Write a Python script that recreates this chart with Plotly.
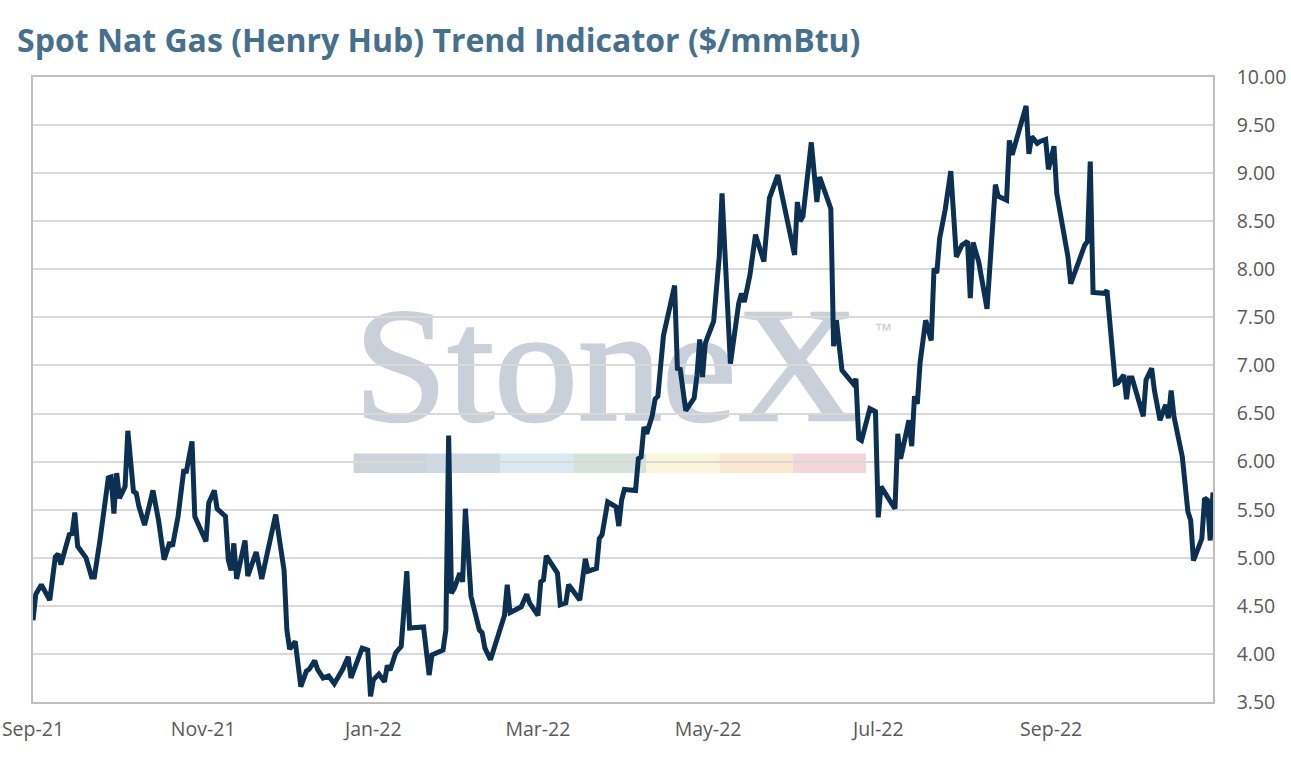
import urllib.parse
import plotly.graph_objects as go

# Henry Hub spot price
dates = [
    "2021-09-01", "2021-09-02", "2021-09-04", "2021-09-07", "2021-09-09", "2021-09-10", "2021-09-11",
    "2021-09-14", "2021-09-15", "2021-09-16", "2021-09-17", "2021-09-20", "2021-09-22", "2021-09-23",
    "2021-09-25", "2021-09-27", "2021-09-28", "2021-09-29", "2021-09-30", "2021-10-01", "2021-10-02",
    "2021-10-03", "2021-10-04", "2021-10-05", "2021-10-07", "2021-10-08", "2021-10-09", "2021-10-11",
    "2021-10-14", "2021-10-16", "2021-10-18", "2021-10-20", "2021-10-21", "2021-10-23", "2021-10-25",
    "2021-10-26", "2021-10-28", "2021-10-29", "2021-11-02", "2021-11-03", "2021-11-05", "2021-11-06",
    "2021-11-09", "2021-11-10", "2021-11-11", "2021-11-12", "2021-11-13", "2021-11-16", "2021-11-17",
    "2021-11-20", "2021-11-22", "2021-11-24", "2021-11-27", "2021-11-30", "2021-12-01", "2021-12-02",
    "2021-12-04", "2021-12-06", "2021-12-08", "2021-12-09", "2021-12-11", "2021-12-12", "2021-12-14",
    "2021-12-16", "2021-12-18", "2021-12-21", "2021-12-23", "2021-12-24", "2021-12-28", "2021-12-30",
    "2021-12-31", "2022-01-01", "2022-01-03", "2022-01-05", "2022-01-06", "2022-01-07", "2022-01-09",
    "2022-01-11", "2022-01-13", "2022-01-14", "2022-01-19", "2022-01-21", "2022-01-22", "2022-01-26",
    "2022-01-27", "2022-01-28", "2022-01-29", "2022-01-30", "2022-02-01", "2022-02-02", "2022-02-03",
    "2022-02-05", "2022-02-08", "2022-02-09", "2022-02-10", "2022-02-12", "2022-02-16", "2022-02-17",
    "2022-02-18", "2022-02-19", "2022-02-21", "2022-02-23", "2022-02-25", "2022-02-26", "2022-03-01",
    "2022-03-02", "2022-03-03", "2022-03-04", "2022-03-08", "2022-03-09", "2022-03-11", "2022-03-12",
    "2022-03-16", "2022-03-18", "2022-03-19", "2022-03-22", "2022-03-23", "2022-03-24", "2022-03-26",
    "2022-03-29", "2022-03-30", "2022-03-31", "2022-04-01", "2022-04-05", "2022-04-06", "2022-04-07",
    "2022-04-08", "2022-04-09", "2022-04-11", "2022-04-12", "2022-04-13", "2022-04-15", "2022-04-19",
    "2022-04-20", "2022-04-21", "2022-04-23", "2022-04-26", "2022-04-27", "2022-04-28", "2022-04-29",
    "2022-04-30", "2022-05-03", "2022-05-05", "2022-05-06", "2022-05-07", "2022-05-09", "2022-05-12",
    "2022-05-13", "2022-05-14", "2022-05-16", "2022-05-18", "2022-05-21", "2022-05-23", "2022-05-26",
    "2022-05-27", "2022-06-01", "2022-06-02", "2022-06-03", "2022-06-04", "2022-06-07", "2022-06-09",
    "2022-06-10", "2022-06-14", "2022-06-15", "2022-06-16", "2022-06-18", "2022-06-22", "2022-06-23",
    "2022-06-24", "2022-06-25", "2022-06-28", "2022-06-30", "2022-07-01", "2022-07-02", "2022-07-07",
    "2022-07-08", "2022-07-09", "2022-07-12", "2022-07-13", "2022-07-14", "2022-07-15", "2022-07-16",
    "2022-07-18", "2022-07-20", "2022-07-21", "2022-07-22", "2022-07-23", "2022-07-25", "2022-07-27",
    "2022-07-29", "2022-07-31", "2022-08-02", "2022-08-03", "2022-08-04", "2022-08-06", "2022-08-09",
    "2022-08-12", "2022-08-13", "2022-08-16", "2022-08-17", "2022-08-18", "2022-08-20", "2022-08-23",
    "2022-08-24", "2022-08-25", "2022-08-27", "2022-08-28", "2022-08-30", "2022-08-31", "2022-09-02",
    "2022-09-03", "2022-09-07", "2022-09-08", "2022-09-13", "2022-09-14", "2022-09-15", "2022-09-16",
    "2022-09-20", "2022-09-21", "2022-09-23", "2022-09-24", "2022-09-25", "2022-09-27", "2022-09-28",
    "2022-09-29", "2022-09-30", "2022-10-04", "2022-10-05", "2022-10-07", "2022-10-08", "2022-10-10",
    "2022-10-12", "2022-10-13", "2022-10-14", "2022-10-15", "2022-10-18", "2022-10-20", "2022-10-21",
    "2022-10-22", "2022-10-25", "2022-10-26", "2022-10-27", "2022-10-28", "2022-10-29",
]
prices = [
    4.35, 4.62, 4.72, 4.56, 5.01, 5.04, 4.93,
    5.24, 5.25, 5.47, 5.12, 5.00, 4.80, 4.80,
    5.18, 5.60, 5.83, 5.84, 5.46, 5.88, 5.62,
    5.68, 5.74, 6.32, 5.69, 5.67, 5.53, 5.34,
    5.70, 5.39, 4.98, 5.16, 5.12, 5.43, 5.90,
    5.90, 6.21, 5.43, 5.17, 5.57, 5.70, 5.51,
    5.43, 4.98, 4.87, 5.15, 4.78, 5.18, 4.81,
    5.06, 4.78, 5.05, 5.45, 4.87, 4.25, 4.05,
    4.13, 3.66, 3.82, 3.84, 3.93, 3.84, 3.75,
    3.77, 3.69, 3.84, 3.97, 3.75, 4.06, 4.04,
    3.56, 3.73, 3.79, 3.71, 3.88, 3.83, 4.01,
    4.08, 4.86, 4.27, 4.28, 3.78, 3.99, 4.04,
    4.25, 6.27, 4.63, 4.68, 4.84, 4.75, 5.51,
    4.60, 4.25, 4.22, 4.06, 3.94, 4.30, 4.40,
    4.72, 4.43, 4.46, 4.49, 4.62, 4.53, 4.40,
    4.75, 4.77, 5.02, 4.84, 4.51, 4.53, 4.72,
    4.56, 4.99, 4.86, 4.89, 5.20, 5.24, 5.58,
    5.53, 5.33, 5.60, 5.71, 5.70, 6.03, 6.05,
    6.36, 6.29, 6.48, 6.65, 6.68, 7.31, 7.83,
    6.97, 6.96, 6.53, 6.66, 6.89, 7.27, 6.88,
    7.23, 7.46, 8.13, 8.79, 8.20, 7.02, 7.65,
    7.75, 7.66, 7.94, 8.36, 8.08, 8.74, 8.98,
    8.84, 8.15, 8.70, 8.50, 8.55, 9.32, 8.70,
    8.96, 8.63, 7.20, 7.47, 6.95, 6.81, 6.86,
    6.24, 6.22, 6.55, 6.52, 5.42, 5.74, 5.51,
    6.29, 6.03, 6.43, 6.16, 6.68, 6.60, 7.03,
    7.47, 7.26, 8.01, 7.96, 8.32, 8.62, 9.02,
    8.13, 8.25, 8.29, 7.70, 8.28, 8.08, 7.59,
    8.88, 8.76, 8.72, 9.34, 9.19, 9.38, 9.70,
    9.20, 9.38, 9.31, 9.33, 9.35, 9.04, 9.28,
    8.79, 8.13, 7.85, 8.25, 8.29, 9.12, 7.76,
    7.75, 7.78, 7.13, 6.81, 6.82, 6.90, 6.65,
    6.87, 6.87, 6.47, 6.85, 6.97, 6.74, 6.43,
    6.59, 6.45, 6.74, 6.47, 6.05, 5.48, 5.39,
    4.97, 5.20, 5.62, 5.60, 5.18, 5.68,
]

x_ticks = ["2021-09-01", "2021-11-01", "2022-01-01", "2022-03-01", "2022-05-01", "2022-07-01", "2022-09-01"]
x_labels = ["Sep-21", "Nov-21", "Jan-22", "Mar-22", "May-22", "Jul-22", "Sep-22"]

band_colors = ["#cdd3da", "#cfd9e4", "#dce9f3", "#d5e2d9", "#faf6dc", "#fae8cf", "#f3d6d8"]

# watermark as a little svg, put below the grid
rects = ""
for i, c in enumerate(band_colors):
    rects += '<rect x="%.1f" y="153.5" width="73.3" height="19.5" fill="%s"/>' % (3.6 + i * 73.2, c)
svg = (
    '<svg xmlns="http://www.w3.org/2000/svg" width="560" height="180" viewBox="0 0 560 180">'
    '<text x="4" y="120" font-family="Liberation Serif, serif" font-size="164" fill="#c9d0d9" '
    'stroke="#c9d0d9" stroke-width="2.5" '
    'textLength="504" lengthAdjust="spacingAndGlyphs">StoneX</text>'
    '<text x="524" y="36" font-family="Liberation Sans, sans-serif" font-size="18" fill="#c4cbd4">\u2122</text>'
    + rects + '</svg>'
)
svg_uri = "data:image/svg+xml;charset=utf-8," + urllib.parse.quote(svg)

fig = go.Figure()
fig.add_trace(go.Scatter(
    x=dates, y=prices, mode="lines",
    line=dict(color="#0c3052", width=5),
    showlegend=False,
))

fig.add_layout_image(dict(
    source=svg_uri, xref="paper", yref="paper",
    x=(350 - 33) / 1180, y=(702 - 300) / 625,
    sizex=560 / 1180, sizey=180 / 625,
    xanchor="left", yanchor="top", sizing="stretch", layer="below",
))

fig.update_layout(
    width=1291, height=763,
    margin=dict(l=33, r=78, t=77, b=61),
    paper_bgcolor="white", plot_bgcolor="white",
    font=dict(family="Open Sans", color="#595959", size=19.5),
    title=dict(
        text="<b>Spot Nat Gas (Henry Hub) Trend Indicator ($/mmBtu)</b>",
        font=dict(family="Open Sans", size=32, color="#46708c"),
        xref="container", yref="container", x=17 / 1291, y=1 - 41 / 763,
        xanchor="left", yanchor="middle",
    ),
)
fig.update_xaxes(
    type="date", range=["2021-09-01", "2022-10-29"],
    tickvals=x_ticks, ticktext=x_labels,
    showgrid=False, showline=True, mirror=True, linecolor="#bfbfbf", linewidth=1.5,
    ticks="", ticklabelstandoff=9, automargin=False,
)
fig.update_yaxes(
    side="right", range=[3.5, 10], dtick=0.5, tick0=3.5, tickformat=".2f",
    showgrid=True, gridcolor="#d9d9d9", gridwidth=1.5,
    showline=True, mirror=True, linecolor="#bfbfbf", linewidth=1.5,
    ticks="", ticklabelstandoff=18, zeroline=False, automargin=False,
)

# the page body has a default 8px margin; drop it so the figure sits at 0,0
fig.write_html("out.html", config={"displayModeBar": False},
               post_script="document.body.style.margin='0';")
